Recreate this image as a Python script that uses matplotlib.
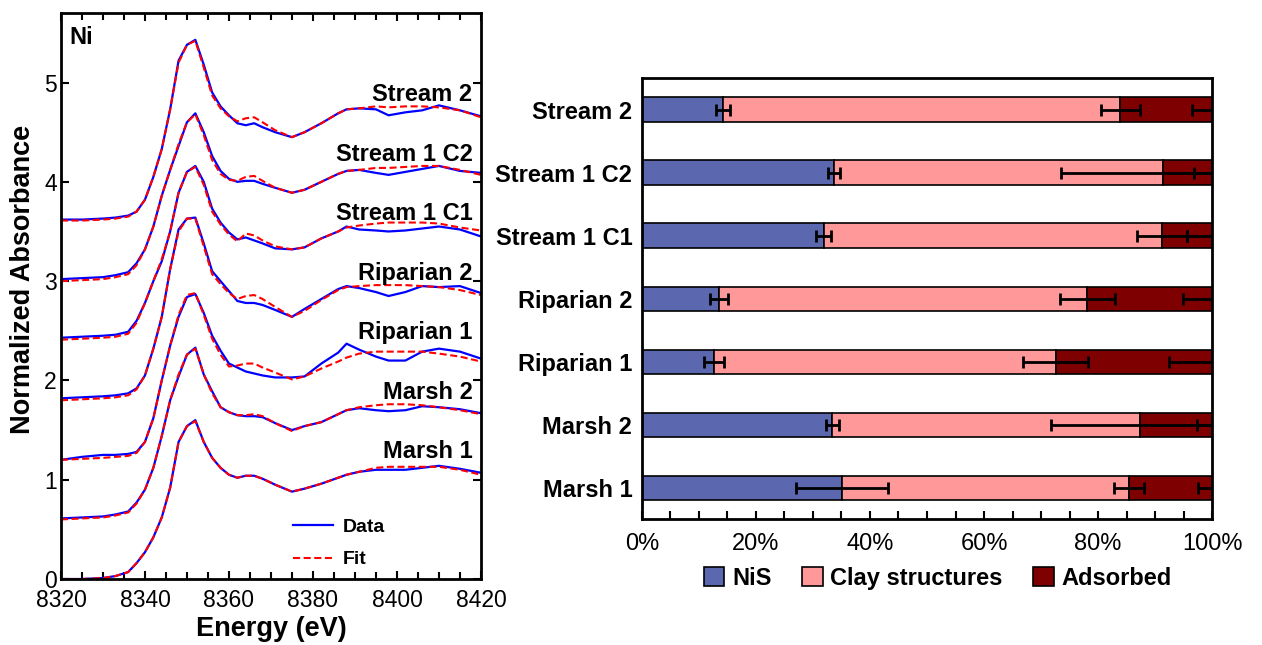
import numpy as np
import matplotlib.pyplot as plt
from matplotlib.patches import Patch
from matplotlib.lines import Line2D
from matplotlib.ticker import MultipleLocator, PercentFormatter

plt.rcParams['font.family'] = ['Liberation Sans', 'DejaVu Sans']

# ---- Ni K-edge XANES, normalized absorbance (no offset) ----
energy = [8320, 8325, 8330, 8333, 8336, 8338, 8340, 8342, 8344, 8346, 8348, 8350,
          8352, 8354, 8356, 8358, 8360, 8362, 8364, 8366, 8368, 8371, 8375, 8378,
          8382, 8386, 8388, 8391, 8395, 8398, 8402, 8406, 8410, 8415, 8420]

marsh1_data = [0.00, 0.00, 0.01, 0.03, 0.07, 0.16, 0.27, 0.42, 0.62, 0.92, 1.38, 1.54,
               1.60, 1.38, 1.22, 1.12, 1.05, 1.02, 1.04, 1.04, 1.01, 0.95, 0.88, 0.91,
               0.96, 1.02, 1.05, 1.08, 1.10, 1.10, 1.10, 1.12, 1.14, 1.11, 1.07]
marsh1_fit = [0.00, 0.00, 0.01, 0.03, 0.07, 0.16, 0.27, 0.42, 0.62, 0.92, 1.38, 1.54,
              1.59, 1.38, 1.22, 1.12, 1.05, 1.02, 1.04, 1.04, 1.01, 0.95, 0.88, 0.91,
              0.96, 1.02, 1.05, 1.08, 1.12, 1.13, 1.13, 1.13, 1.13, 1.10, 1.05]

marsh2_data = [0.01, 0.02, 0.03, 0.05, 0.08, 0.17, 0.30, 0.52, 0.84, 1.20, 1.44, 1.66,
               1.73, 1.46, 1.29, 1.13, 1.08, 1.05, 1.04, 1.04, 1.03, 0.97, 0.90, 0.94,
               0.98, 1.06, 1.10, 1.12, 1.10, 1.09, 1.10, 1.14, 1.13, 1.11, 1.07]
marsh2_fit = [0.00, 0.01, 0.02, 0.04, 0.07, 0.16, 0.30, 0.52, 0.84, 1.20, 1.46, 1.66,
              1.72, 1.46, 1.27, 1.13, 1.08, 1.05, 1.05, 1.06, 1.04, 0.97, 0.89, 0.94,
              0.98, 1.06, 1.10, 1.13, 1.15, 1.16, 1.16, 1.15, 1.13, 1.10, 1.06]

riparian1_data = [0.00, 0.03, 0.05, 0.05, 0.06, 0.08, 0.18, 0.42, 0.80, 1.15, 1.44, 1.64,
                  1.67, 1.48, 1.25, 1.10, 0.97, 0.93, 0.89, 0.87, 0.85, 0.83, 0.83, 0.84,
                  0.97, 1.08, 1.17, 1.11, 1.04, 1.00, 1.00, 1.09, 1.12, 1.09, 1.02]
riparian1_fit = [0.00, 0.01, 0.02, 0.03, 0.04, 0.07, 0.18, 0.42, 0.80, 1.15, 1.46, 1.66,
                 1.68, 1.46, 1.22, 1.06, 0.94, 0.95, 0.97, 0.97, 0.93, 0.88, 0.81, 0.84,
                 0.92, 0.99, 1.03, 1.07, 1.09, 1.09, 1.09, 1.09, 1.07, 1.04, 0.99]

riparian2_data = [0.02, 0.03, 0.04, 0.05, 0.07, 0.12, 0.25, 0.52, 0.84, 1.32, 1.72, 1.83,
                  1.84, 1.58, 1.30, 1.20, 1.10, 1.00, 0.98, 0.98, 0.96, 0.91, 0.84, 0.92,
                  1.02, 1.12, 1.15, 1.13, 1.09, 1.05, 1.09, 1.15, 1.14, 1.15, 1.08]
riparian2_fit = [0.00, 0.01, 0.02, 0.03, 0.05, 0.11, 0.25, 0.52, 0.84, 1.32, 1.70, 1.83,
                 1.83, 1.55, 1.27, 1.17, 1.08, 1.02, 1.05, 1.06, 1.02, 0.94, 0.84, 0.90,
                 1.01, 1.11, 1.14, 1.15, 1.16, 1.16, 1.16, 1.15, 1.14, 1.11, 1.06]

stream1c1_data = [0.03, 0.04, 0.05, 0.06, 0.09, 0.20, 0.38, 0.60, 0.80, 1.10, 1.49, 1.70,
                  1.76, 1.60, 1.33, 1.19, 1.09, 1.02, 1.04, 1.01, 0.98, 0.93, 0.92, 0.94,
                  1.03, 1.10, 1.15, 1.12, 1.11, 1.10, 1.11, 1.13, 1.15, 1.12, 1.05]
stream1c1_fit = [0.01, 0.02, 0.03, 0.04, 0.07, 0.18, 0.38, 0.60, 0.82, 1.10, 1.49, 1.70,
                 1.75, 1.57, 1.30, 1.17, 1.07, 1.00, 1.08, 1.06, 1.01, 0.95, 0.92, 0.94,
                 1.03, 1.10, 1.14, 1.16, 1.18, 1.19, 1.19, 1.19, 1.18, 1.14, 1.11]

stream1c2_data = [0.02, 0.03, 0.04, 0.06, 0.09, 0.18, 0.32, 0.55, 0.86, 1.12, 1.36, 1.60,
                  1.69, 1.50, 1.26, 1.11, 1.03, 1.00, 1.01, 1.01, 0.98, 0.94, 0.89, 0.92,
                  1.00, 1.08, 1.11, 1.12, 1.09, 1.07, 1.10, 1.13, 1.16, 1.11, 1.09]
stream1c2_fit = [0.00, 0.01, 0.02, 0.04, 0.07, 0.16, 0.32, 0.55, 0.86, 1.12, 1.38, 1.60,
                 1.68, 1.47, 1.22, 1.08, 1.02, 1.01, 1.05, 1.06, 1.01, 0.94, 0.89, 0.92,
                 1.00, 1.08, 1.11, 1.12, 1.14, 1.14, 1.15, 1.16, 1.16, 1.12, 1.07]

stream2_data = [0.02, 0.02, 0.03, 0.04, 0.06, 0.10, 0.22, 0.45, 0.73, 1.13, 1.62, 1.78,
                1.83, 1.58, 1.30, 1.16, 1.07, 0.99, 0.97, 0.99, 0.95, 0.90, 0.85, 0.90,
                0.99, 1.09, 1.13, 1.14, 1.13, 1.07, 1.10, 1.12, 1.17, 1.12, 1.06]
stream2_fit = [0.01, 0.01, 0.02, 0.03, 0.05, 0.10, 0.22, 0.45, 0.73, 1.13, 1.60, 1.78,
               1.82, 1.55, 1.27, 1.14, 1.06, 1.01, 1.04, 1.05, 1.00, 0.92, 0.85, 0.90,
               0.99, 1.09, 1.13, 1.14, 1.16, 1.15, 1.16, 1.16, 1.15, 1.12, 1.05]

spectra_names = ['Marsh 1', 'Marsh 2', 'Riparian 1', 'Riparian 2',
                 'Stream 1 C1', 'Stream 1 C2', 'Stream 2']
spectra_data = [marsh1_data, marsh2_data, riparian1_data, riparian2_data,
                stream1c1_data, stream1c2_data, stream2_data]
spectra_fit = [marsh1_fit, marsh2_fit, riparian1_fit, riparian2_fit,
               stream1c1_fit, stream1c2_fit, stream2_fit]
offset_step = 0.6

# ---- LCF results (%), bottom to top ----
samples = ['Marsh 1', 'Marsh 2', 'Riparian 1', 'Riparian 2',
           'Stream 1 C1', 'Stream 1 C2', 'Stream 2']
nis = [35.1, 33.4, 12.6, 13.5, 31.9, 33.7, 14.2]
clay = [50.3, 54.0, 60.0, 64.6, 59.3, 57.7, 69.7]
adsorbed = [14.6, 12.6, 27.4, 21.9, 8.8, 8.6, 16.1]
nis_err = [8.0, 1.1, 1.8, 1.6, 1.3, 1.0, 1.3]
clay_err = [2.6, 15.6, 5.7, 4.8, 4.4, 17.9, 3.4]
adsorbed_err = [2.5, 2.6, 7.5, 5.1, 4.4, 3.2, 3.5]

fig = plt.figure(figsize=(12.62, 6.45), dpi=100)

# ---------------- left: spectra ----------------
ax1 = fig.add_axes([0.0483, 0.1023, 0.3328, 0.8775])
for i, (name, d, f) in enumerate(zip(spectra_names, spectra_data, spectra_fit)):
    off = i * offset_step
    ax1.plot(energy, np.array(d) + off, color='#0000FF', lw=1.6)
    ax1.plot(energy, np.array(f) + off, color='#FF0000', lw=1.5, ls=(0, (3.4, 1.7)))
    ax1.text(8418, off + 1.28, name, ha='right', va='center',
             fontsize=17, fontweight='bold')

ax1.set_xlim(8320, 8420)
ax1.set_ylim(0, 5.7)
ax1.xaxis.set_major_locator(MultipleLocator(20))
ax1.xaxis.set_minor_locator(MultipleLocator(5))
ax1.yaxis.set_major_locator(MultipleLocator(1))
ax1.tick_params(axis='both', which='both', direction='in', top=True, right=True,
                labelsize=16.5, width=1.5)
ax1.tick_params(axis='both', which='major', length=6)
ax1.tick_params(axis='both', which='minor', length=5)
ax1.tick_params(axis='x', pad=7)
ax1.tick_params(axis='y', pad=3)
for s in ax1.spines.values():
    s.set_linewidth(2)
ax1.set_xlabel('Energy (eV)', fontsize=19.5, fontweight='bold', labelpad=3)
ax1.set_ylabel('Normalized Absorbance', fontsize=19.5, fontweight='bold')
ax1.yaxis.set_label_coords(-0.06, 0.53)
ax1.text(0.02, 0.956, 'Ni', transform=ax1.transAxes, ha='left', va='center',
         fontsize=17, fontweight='bold')

ax1.legend(handles=[Line2D([], [], color='#0000FF', lw=1.6),
                    Line2D([], [], color='#FF0000', lw=1.5, ls=(0, (3.4, 1.7)))],
           labels=['Data', 'Fit'], loc='lower left', bbox_to_anchor=(0.51, -0.012),
           frameon=False, prop={'size': 14, 'weight': 'bold'},
           handlelength=2.1, handletextpad=0.5, labelspacing=0.75)

# ---------------- right: stacked bars ----------------
ax2 = fig.add_axes([0.5087, 0.1953, 0.4517, 0.6838])
y = np.arange(len(samples))
nis_a = np.array(nis)
clay_end = nis_a + np.array(clay)
total = clay_end + np.array(adsorbed)

c_nis, c_clay, c_ads = '#5B68B0', '#FF9999', '#7F0000'
ax2.barh(y, nis, height=0.39, color=c_nis, edgecolor='black', linewidth=1.2)
ax2.barh(y, clay, left=nis_a, height=0.39, color=c_clay, edgecolor='black', linewidth=1.2)
ax2.barh(y, adsorbed, left=clay_end, height=0.39, color=c_ads, edgecolor='black', linewidth=1.2)

eb = dict(fmt='none', ecolor='black', elinewidth=2, capsize=4, capthick=2)
ax2.errorbar(nis_a, y, xerr=nis_err, **eb)
ax2.errorbar(clay_end, y, xerr=clay_err, **eb)
ax2.errorbar(total, y, xerr=adsorbed_err, **eb)

ax2.set_xlim(0, 100)
ax2.set_ylim(-0.49, 6.5)
ax2.set_yticks(y)
ax2.set_yticklabels(samples, fontsize=17, fontweight='bold')
ax2.xaxis.set_major_locator(MultipleLocator(20))
ax2.xaxis.set_minor_locator(MultipleLocator(5))
ax2.xaxis.set_major_formatter(PercentFormatter(decimals=0))
ax2.tick_params(axis='y', length=0, pad=7)
ax2.tick_params(axis='x', which='both', direction='in', length=6, width=1.5,
                labelsize=17, pad=10)
for s in ax2.spines.values():
    s.set_linewidth(2)

handles = [Patch(facecolor=c, edgecolor='black', linewidth=1.2) for c in (c_nis, c_clay, c_ads)]
ax2.legend(handles, ['NiS', 'Clay structures', 'Adsorbed'], loc='center',
           bbox_to_anchor=(0.519, -0.134), ncol=3, frameon=False,
           prop={'size': 17, 'weight': 'bold'}, handlelength=0.87, handleheight=0.87,
           handletextpad=0.33, columnspacing=1.3)

fig.savefig('out.png', dpi=100)
